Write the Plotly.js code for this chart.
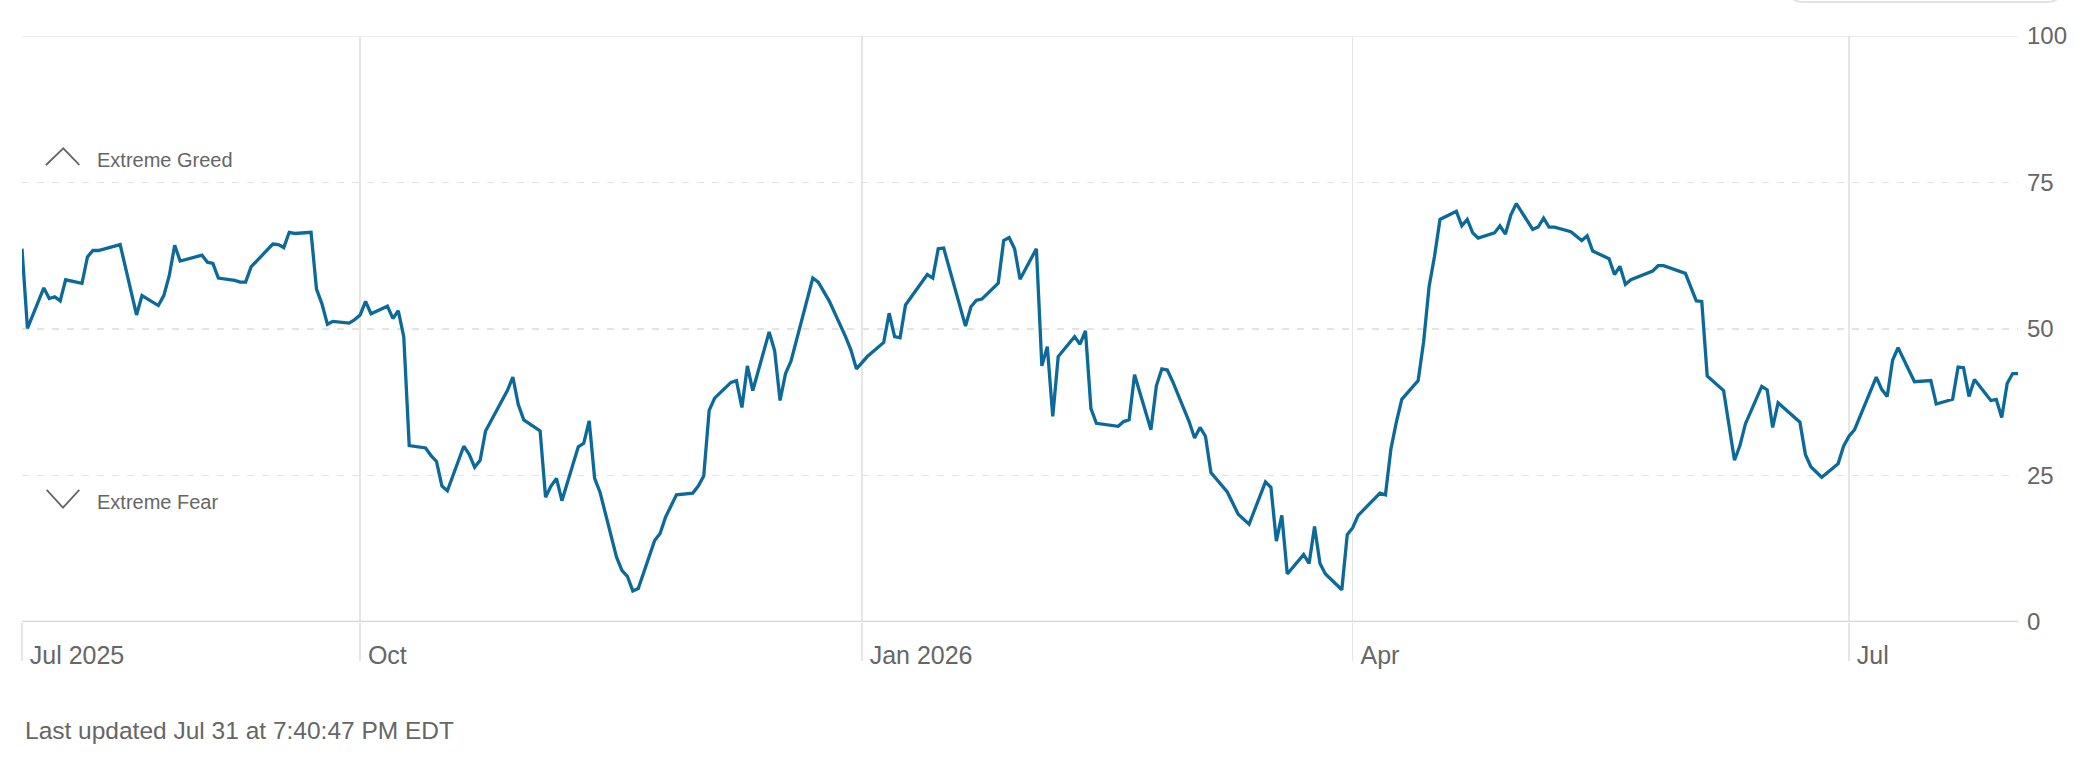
<!DOCTYPE html>
<html>
<head>
<meta charset="utf-8">
<script src="https://cdn.plot.ly/plotly-3.0.1.min.js"></script>
<style>
  html, body { margin: 0; padding: 0; background: #ffffff; }
  #chart { width: 2100px; height: 766px; }
</style>
</head>
<body>
<div id="chart"></div>
<script>
// Fear & Greed index readings
const dates = [
  '2025-07-31','2025-08-01','2025-08-04','2025-08-05','2025-08-06','2025-08-07','2025-08-08',
  '2025-08-11','2025-08-12','2025-08-13','2025-08-14','2025-08-18','2025-08-21','2025-08-22',
  '2025-08-25','2025-08-26','2025-08-27','2025-08-28','2025-08-29','2025-09-02','2025-09-03',
  '2025-09-04','2025-09-05','2025-09-08','2025-09-09','2025-09-10','2025-09-11','2025-09-15',
  '2025-09-16','2025-09-17','2025-09-18','2025-09-19','2025-09-22','2025-09-23','2025-09-24',
  '2025-09-25','2025-09-26','2025-09-29','2025-09-30','2025-10-01','2025-10-02','2025-10-03',
  '2025-10-06','2025-10-07','2025-10-08','2025-10-09','2025-10-10','2025-10-13','2025-10-14',
  '2025-10-15','2025-10-16','2025-10-17','2025-10-20','2025-10-21','2025-10-22','2025-10-23',
  '2025-10-24','2025-10-27','2025-10-28','2025-10-29','2025-10-30','2025-10-31','2025-11-03',
  '2025-11-04','2025-11-05','2025-11-06','2025-11-07','2025-11-10','2025-11-11','2025-11-12',
  '2025-11-13','2025-11-14','2025-11-17','2025-11-18','2025-11-19','2025-11-20','2025-11-21',
  '2025-11-24','2025-11-25','2025-11-26','2025-11-28','2025-12-01','2025-12-02','2025-12-03',
  '2025-12-04','2025-12-05','2025-12-08','2025-12-09','2025-12-10','2025-12-11','2025-12-12',
  '2025-12-15','2025-12-16','2025-12-17','2025-12-18','2025-12-19','2025-12-23','2025-12-24',
  '2025-12-26','2025-12-29','2025-12-30','2025-12-31','2026-01-02','2026-01-05','2026-01-06',
  '2026-01-07','2026-01-08','2026-01-09','2026-01-12','2026-01-13','2026-01-14','2026-01-15',
  '2026-01-16','2026-01-20','2026-01-21','2026-01-22','2026-01-23','2026-01-26','2026-01-27',
  '2026-01-28','2026-01-29','2026-01-30','2026-02-02','2026-02-03','2026-02-04','2026-02-05',
  '2026-02-06','2026-02-09','2026-02-10','2026-02-11','2026-02-12','2026-02-13','2026-02-17',
  '2026-02-18','2026-02-19','2026-02-20','2026-02-23','2026-02-24','2026-02-25','2026-02-26',
  '2026-02-27','2026-03-02','2026-03-03','2026-03-04','2026-03-05','2026-03-06','2026-03-09',
  '2026-03-11','2026-03-13','2026-03-16','2026-03-17','2026-03-18','2026-03-19','2026-03-20',
  '2026-03-23','2026-03-24','2026-03-25','2026-03-26','2026-03-27','2026-03-30','2026-03-31',
  '2026-04-01','2026-04-02','2026-04-06','2026-04-07','2026-04-08','2026-04-09','2026-04-10',
  '2026-04-13','2026-04-14','2026-04-15','2026-04-16','2026-04-17','2026-04-20','2026-04-21',
  '2026-04-22','2026-04-23','2026-04-24','2026-04-27','2026-04-28','2026-04-29','2026-04-30',
  '2026-05-01','2026-05-04','2026-05-05','2026-05-06','2026-05-07','2026-05-08','2026-05-11',
  '2026-05-13','2026-05-14','2026-05-15','2026-05-18','2026-05-19','2026-05-20','2026-05-21',
  '2026-05-22','2026-05-26','2026-05-27','2026-05-28','2026-06-01','2026-06-03','2026-06-04',
  '2026-06-05','2026-06-08','2026-06-10','2026-06-11','2026-06-12','2026-06-15','2026-06-16',
  '2026-06-17','2026-06-18','2026-06-22','2026-06-23','2026-06-24','2026-06-26','2026-06-29',
  '2026-06-30','2026-07-01','2026-07-02','2026-07-06','2026-07-07','2026-07-08','2026-07-09',
  '2026-07-10','2026-07-13','2026-07-16','2026-07-17','2026-07-20','2026-07-21','2026-07-22',
  '2026-07-23','2026-07-24','2026-07-27','2026-07-28','2026-07-29','2026-07-30','2026-07-31',
  '2026-07-31 23:40'
];
const values = [
  63.7,50.1,57.0,55.2,55.5,54.8,58.4,
  57.8,62.3,63.4,63.4,64.4,52.4,55.7,
  54.0,55.7,59.1,64.3,61.6,62.6,61.4,
  61.2,58.7,58.3,58.0,58.0,60.6,64.5,
  64.4,63.9,66.5,66.3,66.5,56.8,54.3,
  50.8,51.3,51.0,51.6,52.4,54.7,52.6,
  53.9,51.8,53.1,48.7,30.1,29.7,28.4,
  27.4,23.2,22.4,30.0,28.6,26.4,27.6,
  32.6,37.6,39.5,41.8,37.1,34.5,32.6,
  21.3,23.2,24.5,20.7,29.9,30.5,34.3,
  24.5,22.1,11.1,8.8,7.8,5.3,5.7,
  13.9,15.1,17.9,21.7,22.0,23.2,24.9,
  36.1,38.2,40.9,41.2,36.6,43.7,39.5,
  49.5,46.3,37.8,42.4,44.5,58.7,58.0,
  54.8,48.7,46.4,43.2,45.3,47.7,52.7,
  48.7,48.5,54.1,58.1,59.3,58.7,63.7,
  63.8,50.5,53.8,54.9,55.1,57.8,65.1,
  65.6,63.7,58.5,63.7,43.7,47.0,35.1,
  45.3,48.7,47.4,49.7,36.4,33.9,33.4,
  34.2,34.5,42.2,32.8,40.3,43.2,43.0,
  41.0,34.2,31.4,33.2,31.7,25.5,22.2,
  18.4,16.7,23.9,23.0,13.8,18.2,8.2,
  11.5,10.0,16.3,10.0,8.2,5.5,14.9,
  16.1,18.2,22.0,21.7,29.5,34.1,38.0,
  41.2,47.8,57.2,62.4,68.7,70.1,67.6,
  68.7,66.4,65.5,66.4,67.6,66.2,69.5,
  71.4,67.0,67.4,68.9,67.4,67.4,66.6,
  65.1,65.9,63.3,62.0,59.3,60.7,57.6,
  58.4,59.9,60.8,60.8,59.5,54.8,54.7,
  42.0,39.5,27.6,30.1,33.8,40.2,39.6,
  33.2,37.4,34.1,28.6,26.5,24.7,27.0,
  30.0,31.7,32.8,41.8,39.7,38.5,44.7,
  46.8,41.0,41.2,37.2,38.0,43.5,43.4,
  38.5,41.4,37.8,38.0,34.9,40.7,42.4,
  42.4
];
const xTickVals = ['2025-07-31','2025-10-01','2026-01-01','2026-04-01','2026-07-01'];
const xTickText = ['Jul 2025','Oct','Jan 2026','Apr','Jul'];
const yTickVals = [0, 25, 50, 75, 100];
const yTickText = ['0','25','50','75','100'];
const zoneLabels = ['Extreme Greed', 'Extreme Fear'];
const zoneLabelY = [78.9, 20.5];
const updatedText = 'Last updated Jul 31 at 7:40:47 PM EDT';

const FONT = 'Liberation Sans, Arial, Helvetica, sans-serif';
const GREY = '#666666';

const trace = {
  type: 'scatter',
  mode: 'lines',
  x: dates,
  y: values,
  line: { color: '#0b6a9a', width: 3.3, shape: 'linear' },
  hoverinfo: 'skip'
};

const layout = {
  width: 2100,
  height: 766,
  margin: { l: 22, r: 82, t: 36, b: 144, pad: 0 },
  paper_bgcolor: '#ffffff',
  plot_bgcolor: '#ffffff',
  showlegend: false,
  font: { family: FONT, color: GREY, size: 24 },
  xaxis: {
    type: 'date',
    range: [dates[0], dates[dates.length - 1]],
    tickmode: 'array',
    tickvals: xTickVals,
    ticktext: xTickText,
    showgrid: true,
    gridcolor: '#e6e6e6',
    gridwidth: 1.5,
    ticks: 'outside',
    ticklen: 38,
    tickwidth: 1.5,
    tickcolor: '#e6e6e6',
    ticklabelposition: 'outside right',
    ticklabelstandoff: 11,
    ticklabelshift: 7,
    tickfont: { family: FONT, size: 25, color: GREY },
    showline: false,
    zeroline: false,
    fixedrange: true
  },
  yaxis: {
    side: 'right',
    range: [0, 100],
    tickmode: 'array',
    tickvals: yTickVals,
    ticktext: yTickText,
    showgrid: true,
    gridcolor: '#e4e4e4',
    gridwidth: 1.5,
    griddash: '7px,8px',
    ticks: '',
    ticklabelstandoff: 8,
    tickfont: { family: FONT, size: 24, color: GREY },
    showline: false,
    zeroline: false,
    fixedrange: true
  },
  shapes: [
    { type: 'line', xref: 'paper', yref: 'y', x0: 0, x1: 1, y0: 0, y1: 0,
      line: { color: '#d6d6d6', width: 2.5 }, layer: 'above' },
    { type: 'line', xref: 'paper', yref: 'y', x0: 0, x1: 1, y0: 100, y1: 100,
      line: { color: '#e6e6e6', width: 1.5 }, layer: 'above' },
    // up chevron (Extreme Greed)
    { type: 'path', xref: 'paper', yref: 'y',
      path: 'M 0.01202,77.99 L 0.02069,80.84 L 0.02871,77.99',
      line: { color: GREY, width: 1.8 }, layer: 'above' },
    // down chevron (Extreme Fear)
    { type: 'path', xref: 'paper', yref: 'y',
      path: 'M 0.01237,22.53 L 0.02054,19.52 L 0.02871,22.53',
      line: { color: GREY, width: 1.8 }, layer: 'above' },
    // bottom edge of a control box cut off at the top right
    { type: 'path', xref: 'paper', yref: 'paper',
      path: 'M 0.8849,1.2 L 0.8849,1.0836 Q 0.8849,1.0580 0.8924,1.0580 L 1.0145,1.0580 Q 1.0220,1.0580 1.0220,1.0836 L 1.0220,1.2',
      line: { color: '#e2e2e2', width: 2 }, layer: 'above' }
  ],
  annotations: [
    { text: zoneLabels[0], xref: 'paper', yref: 'y', x: 0.0366, y: zoneLabelY[0],
      xanchor: 'left', yanchor: 'middle', showarrow: false,
      font: { family: FONT, size: 20, color: GREY } },
    { text: zoneLabels[1], xref: 'paper', yref: 'y', x: 0.0366, y: zoneLabelY[1],
      xanchor: 'left', yanchor: 'middle', showarrow: false,
      font: { family: FONT, size: 20, color: GREY } },
    { text: updatedText, xref: 'paper', yref: 'paper', x: 0.0005, y: -0.185,
      xanchor: 'left', yanchor: 'middle', showarrow: false,
      font: { family: FONT, size: 24.5, color: GREY } }
  ]
};

Plotly.newPlot('chart', [trace], layout, { staticPlot: true, displayModeBar: false });
</script>
</body>
</html>
